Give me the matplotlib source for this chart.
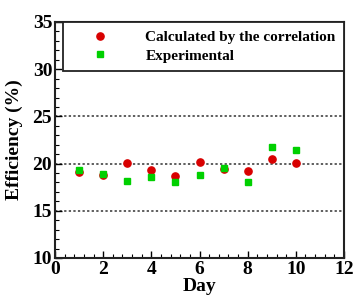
import matplotlib
matplotlib.use('Agg')
import matplotlib.pyplot as plt
from matplotlib.ticker import MultipleLocator

days = [1, 2, 3, 4, 5, 6, 7, 8, 9, 10]
calculated = [19.1, 18.8, 20.1, 19.3, 18.7, 20.2, 19.4, 19.2, 20.5, 20.1]
experimental = [19.3, 18.9, 18.2, 18.6, 18.0, 18.8, 19.5, 18.1, 21.8, 21.4]

plt.rcParams['font.family'] = ['Liberation Serif', 'DejaVu Serif']
plt.rcParams['font.weight'] = 'bold'

fig = plt.figure(figsize=(3.55, 2.96), dpi=100)
ax = fig.add_axes([55 / 355, 1 - 258 / 296, 289 / 355, 236 / 296])

ax.plot(days, calculated, 'o', color='#d80000', markersize=5.2,
        label='Calculated by the correlation', zorder=3)
ax.plot(days, experimental, 's', color='#00d000', markersize=3.8,
        label='Experimental', zorder=4)

ax.set_xlim(0, 12)
ax.set_ylim(10, 35)
ax.xaxis.set_major_locator(MultipleLocator(2))
ax.xaxis.set_minor_locator(MultipleLocator(0.4))
ax.yaxis.set_major_locator(MultipleLocator(5))
ax.yaxis.set_minor_locator(MultipleLocator(1))
ax.tick_params(which='both', direction='in', top=False, right=False,
               labelsize=14, pad=2)
ax.tick_params(which='major', length=5, width=1)
ax.tick_params(which='minor', length=3, width=0.8)
for lab in ax.get_xticklabels() + ax.get_yticklabels():
    lab.set_fontweight('bold')

for y in [15, 20, 25]:
    ax.axhline(y, color='#333333', linestyle=(0, (1.5, 1.5)), linewidth=1.1, zorder=1)

for sp in ax.spines.values():
    sp.set_linewidth(1.5)
    sp.set_color('#222222')

ax.set_xlabel('Day', fontsize=14, fontweight='bold', labelpad=0)
ax.set_ylabel('Efficiency (%)', fontsize=14, fontweight='bold', labelpad=7)

leg = ax.legend(loc='upper right', bbox_to_anchor=(1.0, 1.0), borderaxespad=0,
                frameon=True, fancybox=False, handletextpad=1.07,
                borderpad=0.55, labelspacing=0.31, handlelength=3.8,
                prop={'weight': 'bold', 'size': 11})
leg.get_frame().set_edgecolor('#222222')
leg.get_frame().set_linewidth(1.3)
leg.get_frame().set_alpha(1)

fig.savefig('out.png', dpi=100)
